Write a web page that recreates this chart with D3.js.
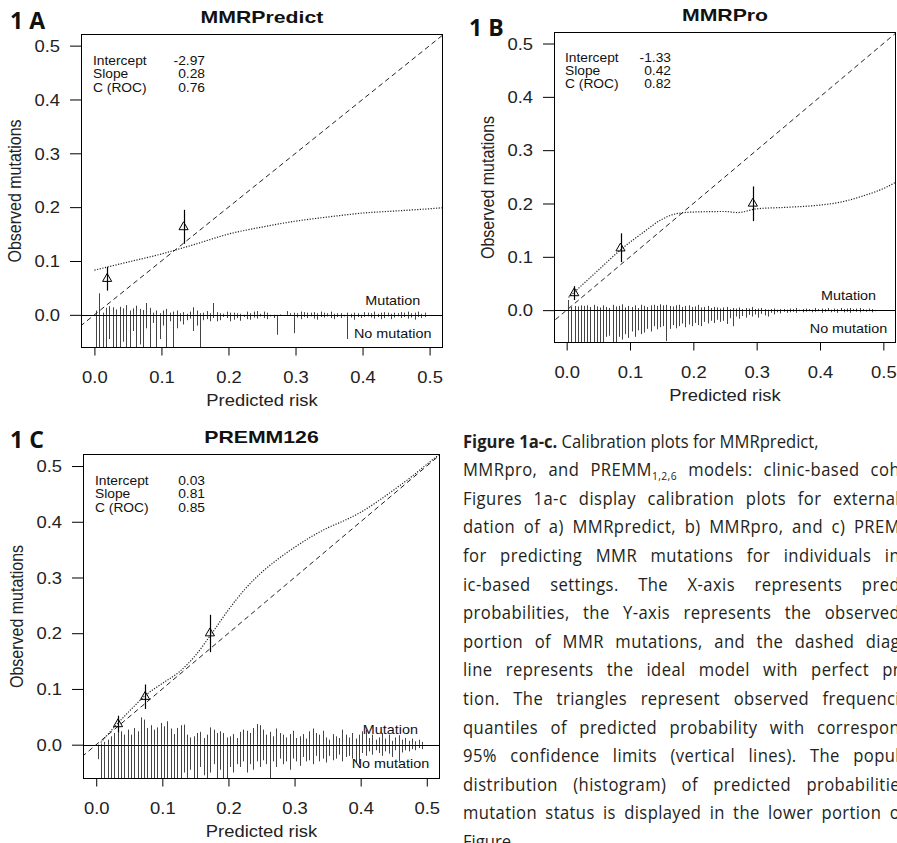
<!DOCTYPE html>
<html><head><meta charset="utf-8">
<script src="https://cdn.jsdelivr.net/npm/d3@7"></script>
<style>body{margin:0;background:#fff}svg{display:block}</style>
</head><body><svg id="c" width="897" height="843"></svg>
<script>
// ---------------- DATA ----------------
const xTicks = [0, 0.1, 0.2, 0.3, 0.4, 0.5];
const yTicks = [0, 0.1, 0.2, 0.3, 0.4, 0.5];
const titles = ["MMRPredict", "MMRPro", "PREMM126"];
const panelLabels = ["1 A", "1 B", "1 C"];
const statNames = ["Intercept", "Slope", "C (ROC)"];
const statsA = ["-2.97", "0.28", "0.76"];
const statsB = ["-1.33", "0.42", "0.82"];
const statsC = ["0.03", "0.81", "0.85"];
const mutLabel = "Mutation", noMutLabel = "No mutation";
const xLabel = "Predicted risk", yLabel = "Observed mutations";

// histogram bins of predicted risk (bin centres)
const bins = d3.range(100).map(i => +(0.0025 + 0.005 * i).toFixed(4));

// smoothed calibration curves
const curveA_x = [0.0, 0.05, 0.1, 0.15, 0.2, 0.25, 0.3, 0.35, 0.4, 0.45, 0.5, 0.52];
const curveA_y = [0.083, 0.098, 0.113, 0.131, 0.150, 0.163, 0.174, 0.182, 0.189, 0.193, 0.197, 0.199];
const curveB_x = [0.003, 0.05, 0.085, 0.12, 0.15, 0.17, 0.2, 0.25, 0.27, 0.3, 0.35, 0.4, 0.43, 0.47, 0.5, 0.52];
const curveB_y = [0.024, 0.075, 0.113, 0.145, 0.170, 0.180, 0.184, 0.185, 0.183, 0.190, 0.193, 0.197, 0.202, 0.215, 0.228, 0.240];
const curveC_x = [0.007, 0.03, 0.05, 0.075, 0.1, 0.125, 0.15, 0.175, 0.2, 0.225, 0.25, 0.275, 0.3, 0.325, 0.35, 0.375, 0.4, 0.425, 0.45, 0.475, 0.5, 0.52];
const curveC_y = [0.004, 0.035, 0.06, 0.089, 0.110, 0.130, 0.160, 0.200, 0.242, 0.279, 0.309, 0.333, 0.354, 0.373, 0.389, 0.402, 0.417, 0.436, 0.457, 0.479, 0.503, 0.522];

// grouped observed frequencies with 95% CI
const triA_x = [0.019, 0.133], triA_y = [0.067, 0.163], triA_lo = [0.045, 0.132], triA_hi = [0.089, 0.195];
const triB_x = [0.012, 0.085, 0.294], triB_y = [0.032, 0.116, 0.200], triB_lo = [0.019, 0.090, 0.167], triB_hi = [0.045, 0.144, 0.232];
const triC_x = [0.033, 0.074, 0.172], triC_y = [0.037, 0.086, 0.200], triC_lo = [0.022, 0.064, 0.166], triC_hi = [0.052, 0.108, 0.233];

// spike histogram heights (mutation up, no mutation down)
const upA = [0.008,0.040,0.004,0.013,0.016,0.014,0.010,0.015,0.012,0.018,
 0.008,0.012,0.017,0.011,0.009,0.022,0.013,0.004,0.008,0.003,
 0.008,0.011,0.004,0.006,0.008,0.003,0.005,0.002,0.006,0.014,
 0.008,0.003,0.004,0.007,0.003,0.022,0.005,0.003,0.002,0.006,
 0.004,0.004,0.003,0.002,0,0.006,0.003,0.006,0.007,0.002,
 0.006,0.004,0,0,0,0.001,0,0.007,0.003,0.004,
 0.003,0.006,0.005,0.004,0.004,0.005,0.003,0.006,0.004,0.003,
 0.006,0.002,0.003,0.003,0,0.004,0.002,0.004,0.003,0,
 0.005,0.004,0.003,0.006,0.002,0.004,0.005,0.004,0.002,0.004,
 0.003,0.005,0.004,0.006,0.003,0.004,0.006,0.002,0.004,0];
const downA = [0.08,0.08,0.08,0.08,0.045,0.08,0.08,0.08,0.05,0.08,
 0.08,0.03,0.08,0.055,0.08,0.025,0.08,0.015,0.08,0.045,
 0.02,0.08,0.012,0.08,0.025,0.012,0.018,0.01,0.007,0.03,
 0.02,0.08,0.01,0.008,0.012,0.006,0.012,0.01,0.004,0.006,
 0.012,0.009,0.006,0.011,0.004,0.008,0.009,0.005,0.007,0.003,
 0.006,0.008,0.003,0.006,0.037,0,0,0,0,0.034,
 0.005,0.008,0.004,0.006,0.003,0.007,0.009,0.004,0.005,0.003,
 0.006,0.008,0.004,0.006,0.003,0.045,0.005,0.009,0.004,0.006,
 0.004,0.003,0.005,0.007,0.004,0.008,0.006,0.003,0.008,0.005,
 0.003,0.006,0.004,0.007,0.005,0.009,0.004,0.006,0.004,0];
const upB = [0.019,0.006,0.008,0.007,0.009,0.008,0.009,0.006,0.010,0.007,
 0.005,0.009,0.006,0.004,0.010,0.007,0.008,0.011,0.005,0.008,
 0.006,0.009,0.004,0.010,0.008,0.006,0.009,0.010,0.008,0.011,
 0.009,0.010,0.008,0.007,0.009,0.010,0.006,0.008,0.009,0.006,
 0.007,0.010,0.005,0.006,0.008,0.004,0.006,0.005,0.003,0.005,
 0.006,0.002,0.004,0.003,0.005,0.002,0.004,0.003,0.006,0.002,
 0.003,0.004,0.002,0.001,0.002,0.003,0.001,0.002,0.002,0.001,
 0.003,0.002,0.004,0.001,0.002,0.003,0.002,0.001,0.004,0.002,
 0.003,0.002,0.004,0.001,0.003,0.002,0.004,0.002,0.003,0.004,
 0.002,0.003,0.004,0.002,0.001,0.003,0.002,0,0,0];
const downB = [0.08,0.08,0.08,0.08,0.08,0.08,0.08,0.08,0.08,0.08,
 0.08,0.08,0.05,0.048,0.06,0.08,0.05,0.055,0.045,0.052,
 0.04,0.05,0.038,0.045,0.042,0.035,0.04,0.03,0.036,0.032,
 0.03,0.058,0.035,0.028,0.034,0.03,0.025,0.032,0.027,0.03,
 0.024,0.028,0.03,0.022,0.025,0.02,0.024,0.018,0.022,0.02,
 0.026,0.015,0.03,0.012,0.016,0.011,0.014,0.009,0.012,0.008,
 0.014,0.007,0.01,0.012,0.005,0.008,0.004,0.006,0.003,0.005,
 0.004,0.003,0.005,0.002,0.004,0.003,0.002,0.004,0.003,0.002,
 0.005,0.003,0.002,0.004,0.003,0.005,0.002,0.004,0.003,0.005,
 0.002,0.003,0.004,0.002,0.003,0.002,0.004,0.002,0,0];
const upC = [0,0.002,0.005,0.009,0.015,0.021,0.036,0.024,0.018,0.027,
 0.018,0.030,0.024,0.049,0.045,0.030,0.035,0.027,0.031,0.039,
 0.033,0.042,0.029,0.019,0.030,0.035,0.036,0.018,0.013,0.015,
 0.021,0.023,0.012,0.018,0.031,0.027,0.021,0.024,0.021,0.013,
 0.015,0.019,0.012,0.023,0.027,0.025,0.021,0.030,0.037,0.035,
 0.027,0.018,0.023,0.015,0.029,0.021,0.018,0.013,0.019,0.025,
 0.012,0.015,0.019,0.011,0.024,0.029,0.021,0.018,0.025,0.013,
 0.009,0.019,0.015,0.012,0.027,0.018,0.013,0.021,0.011,0.018,
 0.024,0.027,0.012,0.018,0.009,0.013,0.021,0.011,0.018,0.007,
 0.013,0.017,0.009,0.012,0.007,0.011,0.006,0.009,0.005,0];
const downC = [0.026,0.08,0.08,0.08,0.08,0.08,0.08,0.08,0.08,0.08,
 0.08,0.08,0.08,0.08,0.08,0.08,0.08,0.08,0.08,0.08,
 0.08,0.08,0.06,0.08,0.08,0.08,0.05,0.08,0.045,0.06,
 0.08,0.04,0.055,0.08,0.05,0.035,0.08,0.045,0.06,0.08,
 0.04,0.05,0.035,0.04,0.03,0.05,0.035,0.045,0.03,0.04,
 0.028,0.035,0.08,0.03,0.04,0.025,0.035,0.03,0.045,0.025,
 0.03,0.038,0.022,0.03,0.028,0.035,0.02,0.03,0.025,0.032,
 0.02,0.028,0.025,0.018,0.03,0.022,0.02,0.025,0.032,0.035,
 0.015,0.02,0.012,0.018,0.01,0.015,0.02,0.012,0.016,0.022,
 0.01,0.03,0.014,0.01,0.012,0.008,0.01,0.006,0.008,0];

// caption
const captionLines = [
  [{t: "Figure 1a-c.", b: true}, {t: " Calibration plots for MMRpredict,"}],
  [{t: "MMRpro, and PREMM"}, {t: "1,2,6", sub: true}, {t: " models: clinic-based coh"}],
  [{t: "Figures 1a-c display calibration plots for external"}],
  [{t: "dation of a) MMRpredict, b) MMRpro, and c) PREM"}],
  [{t: "for predicting MMR mutations for individuals in"}],
  [{t: "ic-based settings. The X-axis represents pred"}],
  [{t: "probabilities, the Y-axis represents the observed"}],
  [{t: "portion of MMR mutations, and the dashed diag"}],
  [{t: "line represents the ideal model with perfect pr"}],
  [{t: "tion. The triangles represent observed frequenci"}],
  [{t: "quantiles of predicted probability with correspon"}],
  [{t: "95% confidence limits (vertical lines). The popul"}],
  [{t: "distribution (histogram) of predicted probabilitie"}],
  [{t: "mutation status is displayed in the lower portion o"}],
  [{t: "Figure."}]
];

// ---------------- LAYOUT ----------------
const xDomain = [-0.02, 0.52], yDomain = [-0.0616, 0.5216];
const layout = [
  {left: 81, top: 34, right: 443, bottom: 348, labX: 10, labY: 28.5, statX: 93, statValX: 205, statY: 65},
  {left: 554, top: 32, right: 896, bottom: 343, labX: 469, labY: 35.5, statX: 565, statValX: 671, statY: 61.5},
  {left: 83, top: 454, right: 440, bottom: 779, labX: 10, labY: 448, statX: 95, statValX: 205, statY: 485}
];
const panels = [
  {stats: statsA, cx: curveA_x, cy: curveA_y, tx: triA_x, ty: triA_y, tlo: triA_lo, thi: triA_hi, up: upA, down: downA},
  {stats: statsB, cx: curveB_x, cy: curveB_y, tx: triB_x, ty: triB_y, tlo: triB_lo, thi: triB_hi, up: upB, down: downB},
  {stats: statsC, cx: curveC_x, cy: curveC_y, tx: triC_x, ty: triC_y, tlo: triC_lo, thi: triC_hi, up: upC, down: downC}
];
const RFONT = "'Liberation Sans', Arial, Helvetica, sans-serif";
const CFONT = "'Open Sans', 'Noto Sans', sans-serif";
const SX = 1.15;

const svg = d3.select("#c");
const defs = svg.append("defs");

function rtext(g, x, y, str, o = {}) {
  return g.append("text")
    .attr("transform", `translate(${x},${y}) scale(${o.sx || SX},1)`)
    .attr("font-family", RFONT)
    .attr("font-size", o.size || 12)
    .attr("font-weight", o.bold ? "bold" : "normal")
    .attr("text-anchor", o.anchor || "start")
    .attr("fill", "#111")
    .text(str);
}

panels.forEach((p, k) => {
  const L = layout[k];
  const x = d3.scaleLinear().domain(xDomain).range([L.left, L.right]);
  const y = d3.scaleLinear().domain(yDomain).range([L.bottom, L.top]);
  const g = svg.append("g");
  defs.append("clipPath").attr("id", "clip" + k)
    .append("rect").attr("x", L.left).attr("y", L.top)
    .attr("width", L.right - L.left).attr("height", L.bottom - L.top);
  const inner = g.append("g").attr("clip-path", `url(#clip${k})`);

  const hist = bins.map((b, i) => ({b, u: p.up[i], d: p.down[i]}));
  const px = d => Math.round(x(d.b)) + 0.5;
  inner.selectAll("line.up").data(hist.filter(d => d.u > 0)).join("line")
    .attr("x1", px).attr("x2", px).attr("y1", y(0)).attr("y2", d => y(d.u))
    .attr("stroke", "#444").attr("stroke-width", 1);
  inner.selectAll("line.down").data(hist.filter(d => d.d > 0)).join("line")
    .attr("x1", px).attr("x2", px).attr("y1", y(0)).attr("y2", d => y(-d.d))
    .attr("stroke", "#444").attr("stroke-width", 1);
  // zero line
  inner.append("line").attr("x1", x(xDomain[0])).attr("x2", x(xDomain[1]))
    .attr("y1", Math.round(y(0)) + 0.5).attr("y2", Math.round(y(0)) + 0.5)
    .attr("stroke", "#000").attr("stroke-width", 1);
  // ideal diagonal
  inner.append("line").attr("x1", x(-0.1)).attr("y1", y(-0.1)).attr("x2", x(0.6)).attr("y2", y(0.6))
    .attr("stroke", "#222").attr("stroke-width", 1).attr("stroke-dasharray", "5,3.5");
  // smoothed curve
  const pts = p.cx.map((v, i) => [v, p.cy[i]]);
  inner.append("path").attr("d", d3.line().x(d => x(d[0])).y(d => y(d[1])).curve(d3.curveMonotoneX)(pts))
    .attr("fill", "none").attr("stroke", "#222").attr("stroke-width", 1.2).attr("stroke-dasharray", "1.2,1.5");
  // CI and triangles
  const tri = p.tx.map((v, i) => ({x: v, y: p.ty[i], lo: p.tlo[i], hi: p.thi[i]}));
  inner.selectAll("line.ci").data(tri).join("line")
    .attr("x1", d => Math.round(x(d.x)) + 0.5).attr("x2", d => Math.round(x(d.x)) + 0.5)
    .attr("y1", d => y(d.lo)).attr("y2", d => y(d.hi)).attr("stroke", "#000").attr("stroke-width", 1.2);
  inner.selectAll("path.tri").data(tri).join("path")
    .attr("transform", d => `translate(${x(d.x)},${y(d.y)})`)
    .attr("d", d3.symbol(d3.symbolTriangle, 36)())
    .attr("fill", "none").attr("stroke", "#000").attr("stroke-width", 1);

  // box
  g.append("rect").attr("x", L.left + 0.5).attr("y", L.top + 0.5)
    .attr("width", L.right - L.left - 1).attr("height", L.bottom - L.top - 1)
    .attr("fill", "none").attr("stroke", "#000").attr("stroke-width", 1);

  // axes
  const ax = g.append("g").attr("transform", `translate(0,${L.bottom})`)
    .call(d3.axisBottom(x).tickValues(xTicks).tickFormat(d3.format(".1f")).tickSize(7.5).tickSizeOuter(0));
  ax.select(".domain").remove();
  ax.selectAll("line").attr("stroke", "#000");
  ax.selectAll("text").attr("y", 35).attr("dy", null)
    .attr("transform", `scale(${SX},1)`)
    .attr("font-family", RFONT).attr("font-size", 16).attr("fill", "#222");
  const ay = g.append("g").attr("transform", `translate(${L.left},0)`)
    .call(d3.axisLeft(y).tickValues(yTicks).tickFormat(d3.format(".1f")).tickSize(11).tickSizeOuter(0));
  ay.select(".domain").remove();
  ay.selectAll("line").attr("stroke", "#000");
  ay.selectAll("text").attr("x", -21 / SX).attr("dy", "0.36em")
    .attr("transform", `scale(${SX},1)`)
    .attr("font-family", RFONT).attr("font-size", 16).attr("fill", "#222");

  // axis titles
  rtext(g, (L.left + L.right) / 2, L.bottom + 58, xLabel, {size: 16, anchor: "middle"}).attr("fill", "#222");
  g.append("text")
    .attr("transform", `translate(${L.left - 60},${(L.top + L.bottom) / 2}) rotate(-90) scale(1,${SX})`)
    .attr("font-family", RFONT).attr("font-size", 16).attr("text-anchor", "middle").attr("fill", "#222")
    .text(yLabel);

  // title
  rtext(g, (L.left + L.right) / 2, L.top - 11.5, titles[k], {size: 17, bold: true, anchor: "middle", sx: 1.25});
  // panel label
  g.append("text").attr("x", L.labX).attr("y", L.labY)
    .attr("font-family", CFONT).attr("font-weight", "bold").attr("font-size", 23).attr("fill", "#111")
    .text(panelLabels[k]);

  // stats
  statNames.forEach((s, i) => {
    rtext(g, L.statX, L.statY + i * 13.4, s, {size: 12});
    rtext(g, L.statValX, L.statY + i * 13.4, p.stats[i], {size: 12, anchor: "end"});
  });

  // mutation labels
  rtext(g, x(0.445), y(0.027) + 4.5, mutLabel, {size: 12.5, anchor: "middle"});
  rtext(g, x(0.445), y(-0.034) + 4.5, noMutLabel, {size: 12.5, anchor: "middle"});
});

// caption (justified column, cropped at the right edge of the page)
const capX = 463, capY0 = 447.5, capDY = 28.6, capSize = 17.5, capSX = 0.95, capEnd = 900;
const cap = svg.append("g").attr("font-family", CFONT).attr("font-size", capSize).attr("fill", "#231f20");
captionLines.forEach((segs, i) => {
  const t = cap.append("text").attr("transform", `translate(${capX},${capY0 + i * capDY}) scale(${capSX},1)`);
  let afterSub = false;
  segs.forEach(s => {
    if (s.sub) {
      t.append("tspan").attr("font-size", capSize * 0.62).attr("dy", 4).text(s.t);
      afterSub = true;
    } else {
      const ts = t.append("tspan").text(s.t);
      if (s.b) ts.attr("font-weight", "bold");
      if (afterSub) { ts.attr("dy", -4); afterSub = false; }
    }
  });
  if (i > 0 && i < captionLines.length - 1) {
    const full = segs.map(s => s.t).join("");
    const nSp = (full.match(/ /g) || []).length;
    const nCh = full.length;
    const target = (capEnd - capX) / capSX;
    let w = t.node().getComputedTextLength();
    const ls = Math.max(-0.3, Math.min(0.45, (target - w) * 0.4 / nCh));
    t.attr("letter-spacing", ls);
    w = t.node().getComputedTextLength();
    if (nSp > 0) t.attr("word-spacing", Math.max(-2, (target - w) / nSp));
  }
});
</script></body></html>
